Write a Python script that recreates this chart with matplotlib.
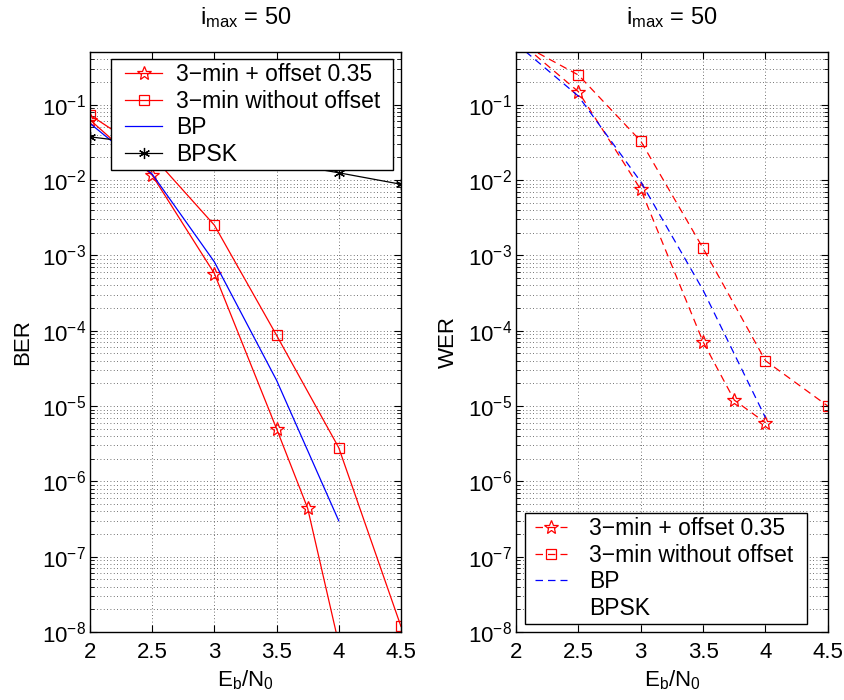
import matplotlib
matplotlib.use("Agg")
import matplotlib.pyplot as plt
from matplotlib.ticker import LogLocator, NullFormatter, FixedLocator
from matplotlib.lines import Line2D
from matplotlib.legend_handler import HandlerLine2D
import numpy as np

plt.rcParams['font.family'] = ['Liberation Sans', 'DejaVu Sans']
plt.rcParams['mathtext.fontset'] = 'custom'
plt.rcParams['mathtext.rm'] = 'Liberation Sans'
plt.rcParams['mathtext.it'] = 'Liberation Sans'

# ---- data ----
ebn0_off = [2.0, 2.5, 3.0, 3.5, 3.75, 4.0]
ber_off = [0.063, 0.0116, 5.75e-4, 5.0e-6, 4.4e-7, 7e-9]
ebn0_sq = [2.0, 2.5, 3.0, 3.5, 4.0, 4.5]
ber_sq = [0.073, 0.021, 2.52e-3, 8.7e-5, 2.8e-6, 1.19e-8]
ebn0_bp = [2.0, 2.5, 3.0, 3.5, 4.0]
ber_bp = [0.0565, 0.012, 8.2e-4, 2.2e-5, 3.0e-7]
ebn0_bpsk = [2.0, 2.5, 3.0, 3.5, 4.0, 4.5]
ber_bpsk = [0.0375, 0.0296, 0.0229, 0.0174, 0.0125, 0.0088]

wer_off = [0.75, 0.149, 0.0075, 7.1e-5, 1.2e-5, 6.0e-6]
wer_sq = [0.70, 0.248, 0.0329, 1.24e-3, 4.0e-5, 1.0e-5]
wer_bp = [0.65, 0.13, 0.0095, 3.45e-4, 7.0e-6]

labels = ['3\u2212min + offset 0.35', '3\u2212min without offset', 'BP', 'BPSK']
title = r'$\mathregular{i_{max}}$ = 50'
xticks = [2, 2.5, 3, 3.5, 4, 4.5]
xticklabels = ['2', '2.5', '3', '3.5', '4', '4.5']

fig = plt.figure(figsize=(8.45, 7.0), dpi=100)
ax1 = fig.add_axes([0.1065, 0.097, 0.368, 0.8286])
ax2 = fig.add_axes([0.6107, 0.097, 0.369, 0.8286])

FS = 16
LFS = 16.5
for ax in (ax1, ax2):
    ax.set_yscale('log')
    ax.set_xlim(2, 4.5)
    ax.set_ylim(1e-8, 0.5)
    ax.set_xticks(xticks)
    ax.set_xticklabels(xticklabels)
    ax.yaxis.set_major_locator(FixedLocator([10.0**k for k in range(-8, 0)]))
    ax.yaxis.set_minor_locator(LogLocator(base=10, subs=np.arange(2, 10), numticks=20))
    ax.yaxis.set_minor_formatter(NullFormatter())
    ax.tick_params(which='both', direction='in', top=True, right=True, labelsize=FS)
    ax.tick_params(which='major', length=5, width=0.8)
    ax.tick_params(axis='x', which='major', pad=7)
    ax.tick_params(axis='y', which='major', pad=3)
    ax.tick_params(which='minor', length=3, width=0.6)
    ax.grid(True, which='major', axis='both', linestyle=(0, (1, 3)), color='#444444', linewidth=0.6)
    ax.grid(True, which='minor', axis='y', linestyle=(0, (1, 3)), color='#444444', linewidth=0.6)
    ax.set_title(title, fontsize=17, pad=20)
    ax.set_xlabel(r'$\mathregular{E_b/N_0}$', fontsize=FS, labelpad=4)
    for s in ax.spines.values():
        s.set_linewidth(1.0)

lw = 0.9
ax1.plot(ebn0_off, ber_off, '-', color='red', lw=lw, marker='*', ms=10, mfc='none', mew=0.9, label=labels[0])
ax1.plot(ebn0_sq, ber_sq, '-', color='red', lw=lw, marker='s', ms=7, mfc='none', mew=0.9, label=labels[1])
ax1.plot(ebn0_bp, ber_bp, '-', color='blue', lw=lw, label=labels[2])
ax1.plot(ebn0_bpsk, ber_bpsk, '-', color='black', lw=lw, marker=(6, 2, 0), ms=8, mew=0.9, label=labels[3])
ax1.set_ylabel('BER', fontsize=FS, labelpad=6)
leg1 = ax1.legend(loc='upper left', bbox_to_anchor=(0.0675, 0.988, 0.9065, 0.0), mode='expand',
                  fontsize=LFS, frameon=True,
                  fancybox=False, edgecolor='black', framealpha=1.0, borderpad=0.16,
                  labelspacing=0.17, handlelength=2.07, handletextpad=0.61, borderaxespad=0,
                  handler_map={Line2D: HandlerLine2D(xpad=0.45)})
leg1.get_frame().set_linewidth(1.0)
leg1.set_zorder(10)

dash = (0, (6, 4))
ax2.plot(ebn0_off, wer_off, linestyle=dash, color='red', lw=lw, marker='*', ms=10, mfc='none', mew=0.9, label=labels[0])
ax2.plot(ebn0_sq, wer_sq, linestyle=dash, color='red', lw=lw, marker='s', ms=7, mfc='none', mew=0.9, label=labels[1])
ax2.plot(ebn0_bp, wer_bp, linestyle=dash, color='blue', lw=lw, label=labels[2])
ax2.plot([], [], linestyle='none', label=labels[3])
ax2.set_ylabel('WER', fontsize=FS, labelpad=6)
leg2 = ax2.legend(loc='lower left', bbox_to_anchor=(0.029, 0.014, 0.904, 0.0), mode='expand',
                  fontsize=LFS, frameon=True,
                  fancybox=False, edgecolor='black', framealpha=1.0, borderpad=0.16,
                  labelspacing=0.17, handlelength=1.67, handletextpad=0.96, borderaxespad=0,
                  handler_map={Line2D: HandlerLine2D(xpad=0.28)})
leg2.get_frame().set_linewidth(1.0)
leg2.set_zorder(10)

fig.savefig('out.png', dpi=100)
